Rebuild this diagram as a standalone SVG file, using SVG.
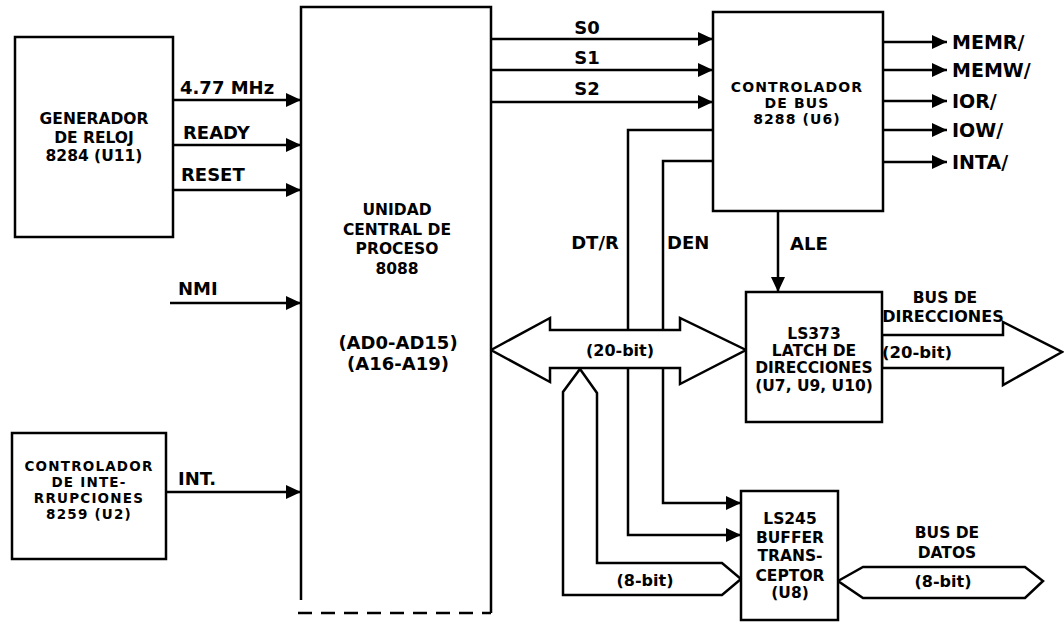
<svg xmlns="http://www.w3.org/2000/svg" width="1064" height="625" viewBox="0 0 1064 625">
<style>
  .box{fill:#fff;stroke:#000;stroke-width:2.5}
  .ln{fill:none;stroke:#000;stroke-width:2.5}
  .bus{fill:#fff;stroke:#000;stroke-width:2.5;stroke-linejoin:miter}
  .arr{marker-end:url(#ah)}
  text{font-family:"DejaVu Sans","Liberation Sans",Arial,sans-serif;font-weight:bold;fill:#000}
  .bt{font-size:15.5px;text-anchor:middle}
  .sg{font-size:18px}
  .out{font-size:19px}
  .mid{text-anchor:middle}
</style>
<defs>
  <marker id="ah" viewBox="0 0 15 14" refX="15" refY="7" markerWidth="15" markerHeight="14" markerUnits="userSpaceOnUse" orient="auto">
    <path d="M0,0 L15,7 L0,14 z" fill="#000"/>
  </marker>
</defs>
<rect width="1064" height="625" fill="#fff"/>

<g id="connectors">
  <line class="ln arr" x1="173" y1="100" x2="301" y2="100"/>
  <line class="ln arr" x1="173" y1="145" x2="301" y2="145"/>
  <line class="ln arr" x1="173" y1="190" x2="301" y2="190"/>
  <line class="ln arr" x1="170" y1="303" x2="301" y2="303"/>
  <line class="ln arr" x1="166" y1="492" x2="301" y2="492"/>
  <line class="ln arr" x1="491" y1="39" x2="713" y2="39"/>
  <line class="ln arr" x1="491" y1="70" x2="713" y2="70"/>
  <line class="ln arr" x1="491" y1="102" x2="713" y2="102"/>
  <line class="ln arr" x1="883" y1="42" x2="947" y2="42"/>
  <line class="ln arr" x1="883" y1="70" x2="947" y2="70"/>
  <line class="ln arr" x1="883" y1="101" x2="947" y2="101"/>
  <line class="ln arr" x1="883" y1="130" x2="947" y2="130"/>
  <line class="ln arr" x1="883" y1="162" x2="947" y2="162"/>
  <line class="ln arr" x1="778" y1="211" x2="778" y2="292"/>
  <polyline class="ln arr" points="713,130 628,130 628,535 741,535"/>
  <polyline class="ln arr" points="713,161 663,161 663,503 741,503"/>
  <polygon class="bus" points="491,350 550,318 550,330 680,330 680,318 746,350 680,384 680,368 550,368 550,382"/>
  <polygon class="bus" points="580,369 597,393 597,563 722,563 741,579 722,595 563,595 563,392"/>
  <polygon class="bus" points="882,335 1003,335 1003,322 1062,352 1003,385 1003,368 882,368"/>
  <polygon class="bus" points="838,581 863,567 1025,567 1043,581 1025,598 863,598"/>
  <text class="sg" x="180" y="93.5">4.77 MHz</text>
  <text class="sg" x="183" y="139">READY</text>
  <text class="sg" x="181" y="181">RESET</text>
  <text class="sg" x="178" y="294.5">NMI</text>
  <text class="sg" x="178" y="485">INT.</text>
  <text class="sg mid" x="587" y="33.5">S0</text>
  <text class="sg mid" x="587" y="63.5">S1</text>
  <text class="sg mid" x="587" y="94.5">S2</text>
  <text class="out" x="952" y="49">MEMR/</text>
  <text class="out" x="952" y="77">MEMW/</text>
  <text class="out" x="952" y="108">IOR/</text>
  <text class="out" x="952" y="137">IOW/</text>
  <text class="out" x="952" y="169">INTA/</text>
  <text class="sg mid" x="595" y="248.5">DT/R</text>
  <text class="sg" x="667" y="248.5">DEN</text>
  <text class="sg" x="790" y="249.5">ALE</text>
  <text class="mid" x="620" y="355.5" font-size="16">(20-bit)</text>
  <text class="mid" x="645" y="586" font-size="16">(8-bit)</text>
  <text class="mid" x="945" y="302.5" font-size="15.5">BUS DE</text>
  <text class="mid" x="943" y="321.5" font-size="16">DIRECCIONES</text>
  <text class="mid" x="917" y="358" font-size="16.5">(20-bit)</text>
  <text class="mid" x="947" y="538" font-size="15.5">BUS DE</text>
  <text class="mid" x="947" y="558" font-size="15.5">DATOS</text>
  <text class="mid" x="943" y="586.5" font-size="16">(8-bit)</text>
</g>

<g id="clock">
  <rect class="box" x="15" y="37" width="158" height="200"/>
  <text class="bt" x="94" y="123.5" font-size="15">GENERADOR</text>
  <text class="bt" x="94" y="142.5">DE RELOJ</text>
  <text class="bt" x="94" y="160.5">8284 (U11)</text>
</g>

<g id="pic">
  <rect class="box" x="12" y="433" width="154" height="126"/>
  <text class="mid" x="89" y="471" font-size="13.5" letter-spacing="1.2">CONTROLADOR</text>
  <text class="mid" x="89" y="487" font-size="13.5" letter-spacing="1.2">DE INTE-</text>
  <text class="mid" x="89" y="503" font-size="13.5" letter-spacing="1.2">RRUPCIONES</text>
  <text class="mid" x="89" y="519" font-size="13.5" letter-spacing="1.2">8259 (U2)</text>
</g>

<g id="cpu">
  <rect x="301" y="7" width="190" height="606" fill="#fff"/>
  <path class="ln" d="M301,600 V7 H491 V613"/>
  <line class="ln" x1="298" y1="613" x2="491" y2="613" stroke-dasharray="14,9"/>
  <text class="bt" x="397" y="214.5">UNIDAD</text>
  <text class="bt" x="397" y="234.5">CENTRAL DE</text>
  <text class="bt" x="397" y="253.5">PROCESO</text>
  <text class="bt" x="397" y="273.5">8088</text>
  <text class="mid" x="398" y="348.5" font-size="18">(AD0-AD15)</text>
  <text class="mid" x="398" y="369.5" font-size="18">(A16-A19)</text>
</g>

<g id="busctrl">
  <rect class="box" x="713" y="12" width="170" height="199"/>
  <text class="mid" x="797" y="91.5" font-size="14" letter-spacing="1.1">CONTROLADOR</text>
  <text class="mid" x="797" y="107.5" font-size="14" letter-spacing="1.1">DE BUS</text>
  <text class="mid" x="797" y="123.5" font-size="14" letter-spacing="1.1">8288 (U6)</text>
</g>

<g id="latch">
  <rect class="box" x="746" y="292" width="136" height="130"/>
  <text class="bt" x="814" y="339" font-size="16">LS373</text>
  <text class="bt" x="814" y="356" font-size="16">LATCH DE</text>
  <text class="bt" x="814" y="373" font-size="16">DIRECCIONES</text>
  <text class="bt" x="814" y="391" font-size="16">(U7, U9, U10)</text>
</g>

<g id="transceiver">
  <rect class="box" x="741" y="491" width="97" height="129"/>
  <text class="bt" x="790" y="524" font-size="16">LS245</text>
  <text class="bt" x="790" y="543" font-size="16">BUFFER</text>
  <text class="bt" x="790" y="561" font-size="16">TRANS-</text>
  <text class="bt" x="790" y="581" font-size="16">CEPTOR</text>
  <text class="bt" x="790" y="598" font-size="12">(U8)</text>
</g>
</svg>
